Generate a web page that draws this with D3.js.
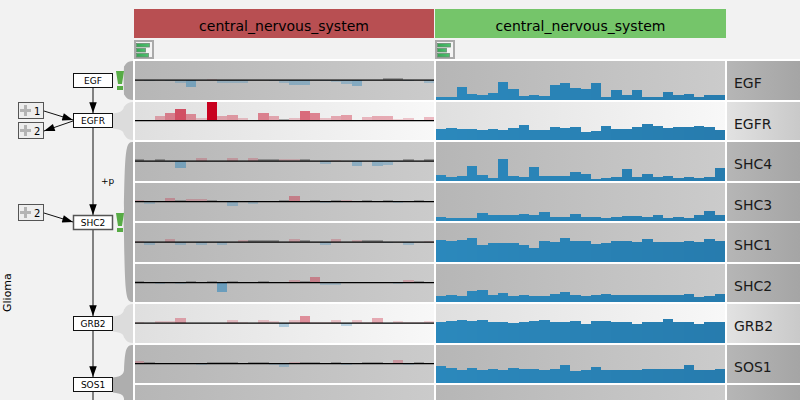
<!DOCTYPE html>
<html>
<head>
    <meta charset="utf-8">
    <script src="https://cdnjs.cloudflare.com/ajax/libs/d3/7.8.5/d3.min.js" charset="utf-8"></script>
    <style>
        html, body { margin: 0; padding: 0; background: #f2f2f2; }
        svg { display: block; }
        text { font-family: "DejaVu Sans", sans-serif; fill: #000; }
    </style>
</head>
<body>
<div id="chart"></div>
<script>
    var genes = ["EGF", "EGFR", "SHC4", "SHC3", "SHC1", "SHC2", "GRB2", "SOS1"];
    var headers = ["central_nervous_system", "central_nervous_system"];

    // left panel, per bin: up = red, down = blue, 0 = dark stub, null = nothing
    var expEGF  = [null,-1,null,-1,-3,-7,null,1,-3,-3,-3,null,null,-1,-3,-5,-5,null,-1,-2,-4,-6,null,null,0,0,-1,null,-3];
    var expEGFR = [null,1,5,8,12,7,3,19,5,6,3,null,8,5,0,3,10,8,3,5,6,1,4,5,5,2,3,null,4];
    var expSHC4 = [0,null,0,-1,-7,null,3,null,null,3,null,3,0,0,2,2,0,null,-3,1,null,-5,null,-5,-4,-1,0,null,0];
    var expSHC3 = [2,-2,null,4,0,3,3,0,1,-4,null,-2,null,null,0,6,null,0,-1,0,2,1,0,null,0,-1,null,0,null];
    var expSHC1 = [1,-3,null,3,-3,null,-3,null,-3,null,2,0,0,0,null,3,0,null,-3,3,null,2,0,0,-1,null,-3,null,1];
    var expSHC2 = [0,null,-1,1,-1,0,null,0,-9,0,null,1,0,1,1,3,0,6,-2,-2,1,null,null,1,null,-1,3,0,1];
    var expGRB2 = [1,null,2,2,5,null,null,null,null,3,1,null,3,2,-4,3,7,1,1,3,-3,3,1,5,-1,2,1,1,2];
    var expSOS1 = [3,0,null,1,null,1,-1,0,0,0,null,0,0,-1,-3,2,0,0,1,0,-1,1,0,0,1,4,-1,0,null];

    // right panel, per bin
    var cnaEGF  = [3,3,13,6,5,7,18,11,4,5,4,15,17,12,11,17,3,10,5,10,3,3,8,5,6,3,5,5];
    var cnaEGFR = [11,12,11,11,10,11,10,12,15,10,10,13,12,13,8,9,14,11,11,13,16,14,12,13,13,14,13,10];
    var cnaSHC4 = [6,4,5,15,6,3,22,5,4,14,5,5,5,9,7,2,3,4,12,4,7,4,5,3,4,3,4,13];
    var cnaSHC3 = [4,3,3,3,8,6,6,6,7,6,9,4,4,7,4,4,3,4,5,5,4,6,3,4,3,6,10,6];
    var cnaSHC1 = [22,21,22,24,17,19,19,19,17,14,21,20,24,21,21,18,19,21,21,20,23,20,20,20,21,20,23,21];
    var cnaSHC2 = [6,7,6,11,12,7,9,6,7,6,6,8,10,7,6,7,8,7,7,7,7,7,7,7,8,5,6,8];
    var cnaGRB2 = [21,22,23,22,23,21,21,20,21,22,23,21,21,22,19,22,22,21,21,19,21,21,24,21,21,19,21,21];
    var cnaSOS1 = [17,15,13,15,13,14,13,15,14,14,13,14,18,12,13,16,13,13,13,13,14,14,14,14,18,13,13,14];

    var expRows = [expEGF, expEGFR, expSHC4, expSHC3, expSHC1, expSHC2, expGRB2, expSOS1];
    var cnaRows = [cnaEGF, cnaEGFR, cnaSHC4, cnaSHC3, cnaSHC1, cnaSHC2, cnaGRB2, cnaSOS1];

    // pathway nodes, and which rows hang off each one
    var nodeNames = ["EGF", "EGFR", "SHC2", "GRB2", "SOS1"];
    var nodeTops = [73, 113, 215, 316, 377];
    var nodeFirstRow = [0, 1, 2, 6, 7];
    var nodeLastRow = [0, 1, 5, 6, 8];
    var nodeHighlight = [false, true, false, true, false];
    var nodeWarned = [true, false, true, false, false];
    var groupCounts = ["1", "2", "2"];
    var groupTops = [102, 122, 204];
    var groupTargets = [1, 1, 2];
    var groupIncoming = [true, false, true];

    var width = 800, height = 400;

    var svg = d3.select("#chart").append("svg")
        .attr("width", width)
        .attr("height", height);
    var defs = svg.append("defs");

    function gradient(id, from, to) {
        var g = defs.append("linearGradient").attr("id", id);
        g.append("stop").attr("offset", "0%").attr("stop-color", from);
        g.append("stop").attr("offset", "100%").attr("stop-color", to);
    }
    gradient("panelDark", "#b6b6b6", "#cbcbcb");
    gradient("panelLight", "#dfdfdf", "#f8f8f8");
    gradient("labelDark", "#b6b6b6", "#a5a5a5");
    gradient("labelLight", "#e2e2e2", "#c9c9c9");
    gradient("greenBar", "#35a854", "#4fc06f");

    var clip = defs.append("clipPath").attr("id", "leftClip");
    clip.append("rect").attr("x", 135).attr("y", 0).attr("width", 299.5).attr("height", height);

    // row tops come out at a 40.5 pitch, then snap to whole pixels
    var rowStep = 40.5, rowStart = 61;
    function rowTop(i) { return Math.round(rowStart + rowStep * i); }
    function rowBottom(i) { return rowTop(i + 1) - 2; }
    function rowZero(i) { return rowStart + rowStep * i + 19.2; }
    function isLight(i) { return genes[i] == "EGFR" || genes[i] == "GRB2"; }

    var xLeft = d3.scaleBand().domain(d3.range(29)).range([134, 434.4]);
    var xRight = d3.scaleBand().domain(d3.range(28)).range([436, 725]);
    var yExp = d3.scaleLinear().domain([0, 19]).range([0, 19]);
    var yCna = d3.scaleLinear().domain([0, 39]).range([0, 39]);
    var strength = d3.scaleLinear().domain([0, 19]).range([0.05, 1]);
    var cnaColor = d3.scaleLinear().domain([0, 27]).range(["#2b88bc", "#277cae"]);

    // headers
    var headerX = [134, 435];
    var headerW = [300, 291];
    var headerFill = ["#b84f52", "#75c56a"];
    headers.forEach(function(h, i) {
        svg.append("rect").attr("x", headerX[i]).attr("y", 9).attr("width", headerW[i]).attr("height", 29)
            .attr("fill", headerFill[i]);
        svg.append("text").attr("x", headerX[i] + headerW[i] / 2).attr("y", 31)
            .attr("text-anchor", "middle").style("font-size", "14px").text(h);

        var icon = svg.append("g").attr("transform", "translate(" + headerX[i] + ",40)");
        icon.append("rect").attr("x", 1).attr("y", 1).attr("width", 18).attr("height", 17)
            .attr("fill", "#f4f4f4").attr("stroke", "#aaa").attr("stroke-width", 2);
        [[3, 13], [8, 9], [13, 12]].forEach(function(b) {
            icon.append("rect").attr("x", 2.5).attr("y", b[0] + 0.5).attr("width", b[1]).attr("height", 3.5)
                .attr("fill", "url(#greenBar)").attr("stroke", "#6b8a74").attr("stroke-width", 0.8);
        });
    });

    // white sheet behind the rows
    svg.append("rect").attr("x", 133).attr("y", 59).attr("width", width - 133).attr("height", height - 59)
        .attr("fill", "#fff");

    // connectors from node to rows
    nodeNames.forEach(function(name, n) {
        var top = rowTop(nodeFirstRow[n]);
        var bottom = nodeLastRow[n] == 8 ? 440 : rowBottom(nodeLastRow[n]);
        var mid = nodeTops[n] + 7.5;
        var p = d3.path();
        p.moveTo(133, top);
        p.bezierCurveTo(126, top, 125, top + 5, 124, mid - 14);
        if (nodeWarned[n]) {
            p.bezierCurveTo(123.5, mid - 5, 123.5, mid + 5, 124, mid + 14);
        } else {
            p.bezierCurveTo(123.5, mid - 11, 122, mid - 8, 113, mid - 7);
            p.lineTo(113, mid + 8);
            p.bezierCurveTo(122, mid + 9, 123.5, mid + 11, 124, mid + 14);
        }
        p.bezierCurveTo(125, bottom - 5, 126, bottom, 133, bottom);
        p.closePath();
        svg.append("path").attr("d", p.toString())
            .attr("fill", nodeHighlight[n] ? "#dcdcdc" : "#aeaeae");
    });

    // rows
    d3.range(9).forEach(function(i) {
        var top = rowTop(i), h = rowBottom(i) - top;
        var kind = isLight(i) ? "Light" : "Dark";

        svg.append("rect").attr("x", 135).attr("y", top).attr("width", 299).attr("height", h)
            .attr("fill", "url(#panel" + kind + ")");
        svg.append("rect").attr("x", 436).attr("y", top).attr("width", 289).attr("height", h)
            .attr("fill", "url(#panel" + kind + ")");
        svg.append("rect").attr("x", 727).attr("y", top).attr("width", 73).attr("height", h)
            .attr("fill", "url(#label" + kind + ")");

        if (i >= genes.length) return;

        var zero = rowZero(i);
        var left = svg.append("g").attr("clip-path", "url(#leftClip)").style("shape-rendering", "crispEdges");
        left.selectAll("rect").data(expRows[i].map(function(v, b) { return {v: v, b: b}; }).filter(function(d) { return d.v !== null; }))
            .enter().append("rect")
            .attr("x", function(d) { return xLeft(d.b); })
            .attr("width", xLeft.bandwidth())
            .attr("y", function(d) { return d.v > 0 ? zero - yExp(d.v) : (d.v == 0 ? zero - 2 : zero); })
            .attr("height", function(d) { return d.v == 0 ? 2 : yExp(Math.abs(d.v)); })
            .attr("fill", function(d) { return d.v > 0 ? "#c8001e" : (d.v < 0 ? "#2f86bb" : "#333"); })
            .attr("fill-opacity", function(d) { return d.v == 0 ? 0.35 : strength(Math.abs(d.v)) + (d.v < 0 ? 0.08 : 0); });

        svg.append("line").attr("x1", 135).attr("x2", 434).attr("y1", zero).attr("y2", zero)
            .attr("stroke", "#000").attr("stroke-width", 1.2);

        var bottom = rowBottom(i);
        svg.append("g").style("shape-rendering", "crispEdges")
            .selectAll("rect").data(cnaRows[i]).enter().append("rect")
            .attr("x", function(d, b) { return xRight(b); })
            .attr("width", xRight.bandwidth())
            .attr("y", function(d) { return bottom - yCna(d); })
            .attr("height", function(d) { return yCna(d); })
            .attr("fill", function(d, b) { return cnaColor(b); });

        svg.append("text").attr("x", 734).attr("y", top + 26.5)
            .style("font-size", "14px").style("fill", "#1a1a1a").text(genes[i]);
    });

    // pathway edges
    var edgeX = 93;
    defs.append("marker").attr("id", "head").attr("viewBox", "0 0 10 7").attr("refX", 10).attr("refY", 3.5)
        .attr("markerUnits", "userSpaceOnUse").attr("markerWidth", 12).attr("markerHeight", 7.5).attr("orient", "auto")
        .append("path").attr("d", "M0,0L10,3.5L0,7Z").attr("fill", "#000");

    function edge(x1, y1, x2, y2) {
        svg.append("line").attr("x1", x1).attr("y1", y1).attr("x2", x2).attr("y2", y2)
            .attr("stroke", "#111").attr("stroke-width", 1).attr("marker-end", "url(#head)");
    }
    nodeNames.forEach(function(name, n) {
        if (n < nodeNames.length - 1) edge(edgeX, nodeTops[n] + 15, edgeX, nodeTops[n + 1]);
    });
    svg.append("line").attr("x1", edgeX).attr("x2", edgeX).attr("y1", nodeTops[4] + 15).attr("y2", height)
        .attr("stroke", "#111").attr("stroke-width", 1);

    groupCounts.forEach(function(c, i) {
        var y = groupTops[i], target = nodeTops[groupTargets[i]];
        if (groupIncoming[i]) {
            edge(44, y + 9, 73, target + 7);
        } else {
            edge(73, target + 8, 44, y + 9);
        }
        var g = svg.append("g").attr("transform", "translate(18," + y + ")");
        g.append("rect").attr("x", 0.5).attr("y", 0.5).attr("width", 25).attr("height", 16)
            .attr("fill", "#eee").attr("stroke", "#555");
        g.append("rect").attr("x", 2).attr("y", 7).attr("width", 11).attr("height", 3).attr("fill", "#b4b4b4");
        g.append("rect").attr("x", 6).attr("y", 3).attr("width", 3).attr("height", 11).attr("fill", "#b4b4b4");
        g.append("text").attr("x", 16).attr("y", 12.5).style("font-size", "10px").text(c);
    });

    // pathway nodes
    nodeNames.forEach(function(name, n) {
        var thick = name == "SHC2";
        svg.append("rect").attr("x", 73.5).attr("y", nodeTops[n] + 0.5).attr("width", 39).attr("height", 14)
            .attr("fill", "#fff").attr("stroke", thick ? "#555" : "#111").attr("stroke-width", thick ? 1.5 : 1);
        svg.append("text").attr("x", 93).attr("y", nodeTops[n] + 11)
            .attr("text-anchor", "middle").style("font-size", "9px").text(name);

        if (nodeWarned[n]) {
            var y = nodeTops[n] - 2;
            svg.append("path").attr("d", "M116," + y + "L124," + y + "L122," + (y + 13) + "L118," + (y + 13) + "Z")
                .attr("fill", "#57ab45");
            svg.append("rect").attr("x", 117).attr("y", y + 15).attr("width", 6).attr("height", 4).attr("fill", "#57ab45");
        }
    });

    svg.append("text").attr("x", 101).attr("y", 184).style("font-size", "9px").text("+p");

    svg.append("text").attr("transform", "translate(11,312) rotate(-90)")
        .style("font-size", "11px").text("Glioma");
</script>
</body>
</html>
